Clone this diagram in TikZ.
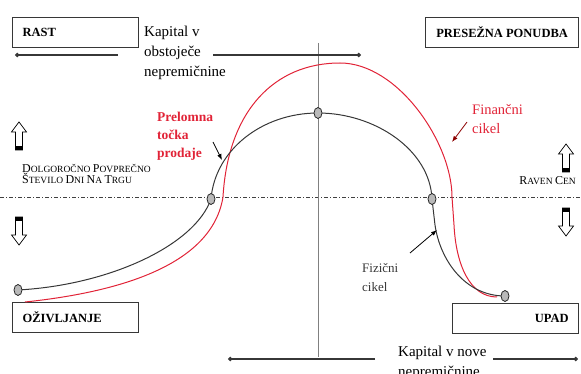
\documentclass[tikz,border=0pt]{standalone}
\usepackage{fontspec}
\setmainfont{Liberation Serif}
\usepackage{xcolor}
\usepackage{tikz}
\usetikzlibrary{arrows.meta,positioning,calc,shapes.geometric}
\definecolor{rdeca}{RGB}{225,35,55}
\definecolor{temna}{RGB}{55,55,55}
\newcommand{\kap}[2]{{\fontsize{12}{11.5}\selectfont #1}{\fontsize{9.5}{11.5}\selectfont #2}}

\begin{document}
\begin{tikzpicture}[x=1pt,y=-1pt,
  okvir/.style={draw=temna,line width=1.2pt,minimum height=30pt,inner xsep=10pt,inner ysep=0pt,
    anchor=north west,font=\fontsize{12.5}{14}\selectfont\bfseries},
  besedilo/.style={inner sep=0pt,anchor=north west,align=left},
  pika/.style={ellipse,draw=black!85,fill=gray!55,line width=0.8pt,minimum width=8pt,minimum height=11pt,inner sep=0pt},
  tok/.style={-{Circle[length=4.5pt]},line width=1.1pt,temna},
  kazalec/.style={-{Latex[length=6pt,width=4.5pt]},line width=0.8pt}]
\useasboundingbox (0,0) rectangle (581,374);
\coordinate (osL) at (0,197);
\coordinate (osD) at (581,197);
\draw[black!75,line width=0.6pt,dash pattern=on 4pt off 2pt on 1pt off 2pt] (osL) -- (osD);
\coordinate (navT) at (318,43);
\coordinate (navB) at (318,357);
\draw[black!50,line width=0.6pt] (navT) -- (navB);
\node[okvir,text width=106pt,align=left] (rast) at (12,17) {RAST};
\node[okvir,minimum width=153pt] (ponudba) at (425,17) {PRESEŽNA PONUDBA};
\node[okvir,text width=106pt,align=left] (ozivljanje) at (12,302) {OŽIVLJANJE};
\node[okvir,text width=106pt,align=right] (upad) at (452,303) {UPAD};
\node[besedilo,font=\fontsize{15}{20}\selectfont] (kapitalA) at (144,26) {Kapital v\\obstoječe\\nepremičnine};
\node[besedilo,font=\fontsize{15}{20}\selectfont] (kapitalB) at (398,346) {Kapital v nove\\nepremičnine};
\coordinate (zgA) at (118,55);
\coordinate (zgL) at (15,55);
\coordinate (zgB) at (213,55);
\coordinate (zgD) at (361,55);
\draw[tok] (zgA) -- (zgL);
\draw[tok] (zgB) -- (zgD);
\coordinate (spA) at (375,359);
\coordinate (spL) at (228,359);
\coordinate (spB) at (493,359);
\coordinate (spD) at (578,359);
\draw[tok] (spA) -- (spL);
\draw[tok] (spB) -- (spD);
\node[besedilo,font=\fontsize{9.5}{11.5}\selectfont] (dolgorocno) at (22,164)
  {\kap{D}{OLGOROČNO} \kap{P}{OVPREČNO}\\\kap{Š}{TEVILO} \kap{D}{NI} \kap{N}{A} \kap{T}{RGU}};
\node[inner sep=0pt,anchor=base east] (raven) at (576,185) {\kap{R}{AVEN} \kap{C}{EN}};
\foreach \x/\y/\r in {19/136/0,19/231/180,566/158/0,566/222/180}{
  \begin{scope}[shift={(\x,\y)},rotate=\r]
    \draw[fill=white,line width=0.7pt] (0,-14) -- (7.5,-4) -- (3.5,-4) -- (3.5,14) -- (-3.5,14) -- (-3.5,-4) -- (-7.5,-4) -- cycle;
    \fill (-3.5,10) rectangle (3.5,14);
  \end{scope}
}
\coordinate (f1) at (18,290);
\coordinate (f2) at (211,199);
\coordinate (f3) at (318,113);
\coordinate (f4) at (432,199);
\coordinate (f5) at (505,296);
\draw[rdeca,line width=1pt] (25,302) .. controls (120,292) and (212,265) .. (223,197)
  .. controls (228,110) and (275,63) .. (340,63) .. controls (398,63) and (452,143) .. (452,197)
  -- (454,225) .. controls (456,265) and (470,297) .. (497,297);
\draw[temna,line width=1pt] (f1) .. controls (110,285) and (195,245) .. (f2)
  .. controls (215,150) and (262,113) .. (f3) .. controls (375,113) and (430,150) .. (f4)
  -- (435,225) .. controls (440,260) and (465,296) .. (f5);
\foreach \i in {1,...,5}{
  \node[pika] (p\i) at (f\i) {};
}
\node[besedilo,text=rdeca,font=\fontsize{13.5}{18}\selectfont\bfseries] (prelomna) at (157,112) {Prelomna\\točka\\prodaje};
\node[besedilo,text=rdeca,font=\fontsize{14.5}{19}\selectfont] (financni) at (472,104) {Finančni\\cikel};
\node[besedilo,text=temna,font=\fontsize{13}{19}\selectfont] (fizicni) at (362,263) {Fizični\\cikel};
\coordinate (prA) at (213,142);
\coordinate (prB) at (222,160);
\draw[kazalec] (prA) -- (prB);
\coordinate (fiA) at (467,122);
\coordinate (fiB) at (452,142);
\draw[kazalec,red!55!black] (fiA) -- (fiB);
\coordinate (fzA) at (410,253);
\coordinate (fzB) at (437,230);
\draw[kazalec] (fzA) -- (fzB);
\end{tikzpicture}
\end{document}
